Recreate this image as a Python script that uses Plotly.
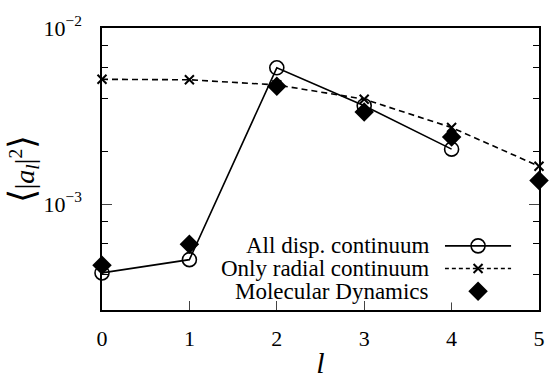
import plotly.graph_objects as go
import numpy as np

l_vals = [0, 1, 2, 3, 4, 5]
all_disp_l = [0, 1, 2, 3, 4]
all_disp = [4.06e-4, 4.83e-4, 5.94e-3, 3.62e-3, 2.05e-3]
radial_l = [0, 1, 2, 3, 4, 5]
radial = [5.11e-3, 5.08e-3, 4.75e-3, 3.94e-3, 2.72e-3, 1.64e-3]
md_l = [0, 1, 2, 3, 4, 5]
md = [4.49e-4, 5.90e-4, 4.67e-3, 3.33e-3, 2.40e-3, 1.36e-3]

x_ticks = [0, 1, 2, 3, 4, 5]
y_major = [1e-3, 1e-2]
y_major_text = ["10<sup>\u22123</sup>", "10<sup>\u22122</sup>"]
y_minor = [2e-4, 4e-4, 6e-4, 8e-4, 2e-3, 4e-3, 6e-3, 8e-3]

legend_names = ["All disp. continuum", "Only radial continuum", "Molecular Dynamics"]

FONT = "Liberation Serif"
fig = go.Figure()

fig.add_trace(go.Scatter(x=radial_l, y=radial, mode="lines+markers", cliponaxis=False,
                         line=dict(color="black", width=1.6, dash="6px,4px"),
                         marker=dict(symbol="x-thin", size=9, line=dict(color="black", width=2)),
                         showlegend=False))
fig.add_trace(go.Scatter(x=all_disp_l, y=all_disp, mode="lines+markers", cliponaxis=False,
                         line=dict(color="black", width=1.6),
                         marker=dict(symbol="circle-open", size=14, color="black", line=dict(width=1.6)),
                         showlegend=False))
fig.add_trace(go.Scatter(x=md_l, y=md, mode="markers", cliponaxis=False,
                         marker=dict(symbol="diamond", size=15, color="black"),
                         showlegend=False))

# custom legend with symbols to the right of the text, drawn on an auxiliary axis
rows = [0.0, 1.0, 2.0]
fig.add_trace(go.Scatter(x=[0, 1], y=[rows[0]] * 2, xaxis="x2", yaxis="y2", mode="lines",
                         line=dict(color="black", width=1.6), showlegend=False, hoverinfo="skip"))
fig.add_trace(go.Scatter(x=[0.5], y=[rows[0]], xaxis="x2", yaxis="y2", mode="markers",
                         marker=dict(symbol="circle-open", size=14, color="black", line=dict(width=1.6)),
                         showlegend=False, hoverinfo="skip"))
fig.add_trace(go.Scatter(x=[0, 1], y=[rows[1]] * 2, xaxis="x2", yaxis="y2", mode="lines",
                         line=dict(color="black", width=1.3, dash="4px,3px"), showlegend=False, hoverinfo="skip"))
fig.add_trace(go.Scatter(x=[0.5], y=[rows[1]], xaxis="x2", yaxis="y2", mode="markers",
                         marker=dict(symbol="x-thin", size=9, line=dict(color="black", width=2)),
                         showlegend=False, hoverinfo="skip"))
fig.add_trace(go.Scatter(x=[0.5], y=[rows[2]], xaxis="x2", yaxis="y2", mode="markers",
                         marker=dict(symbol="diamond", size=15, color="black"),
                         showlegend=False, hoverinfo="skip"))

W, H = 557, 386
L, R, T, B = 102, 14, 17, 70
pw, ph = W - L - R, H - T - B
x2d = [(448 - L) / pw, (515 - L) / pw]
ytop, ybot = 248 - 12, 296 + 12
y2d = [(H - B - ybot) / ph, (H - B - ytop) / ph]

for i, name in enumerate(legend_names):
    ypx = 248 + 24 * i
    fig.add_annotation(x=(432 - L) / pw, y=(H - B - ypx) / ph, xref="paper", yref="paper",
                       text=name, showarrow=False, xanchor="right", yanchor="middle",
                       xshift=2,
                       font=dict(family=FONT, size=23, color="black"))

ytitle = ("<span style='font-size:36px'>\u27e8</span>|<i>a<sub>l</sub></i>|<sup>2</sup>"
          "<span style='font-size:36px'>\u27e9</span>")

fig.update_layout(
    width=W, height=H,
    margin=dict(l=L, r=R, t=T, b=B),
    paper_bgcolor="white", plot_bgcolor="white",
    font=dict(family=FONT, color="black", size=22),
    xaxis=dict(range=[0, 5], tickvals=x_ticks, ticks="inside", ticklen=9, tickwidth=1,
               showline=True, linecolor="black", linewidth=1.5, mirror=True,
               showgrid=False, zeroline=False, tickfont=dict(size=22, family=FONT),
               ticklabelstandoff=8,
               title=dict(text="<i>l</i>", font=dict(size=30, family=FONT), standoff=2)),
    yaxis=dict(type="log", range=[np.log10(2.5e-4), -2], tickvals=y_major, ticktext=y_major_text,
               ticks="inside", ticklen=10, tickwidth=1,
               minor=dict(tickvals=y_minor, ticks="inside", ticklen=6, tickwidth=1, tickcolor="black", showgrid=False),
               showline=True, linecolor="black", linewidth=1.5, mirror="ticks",
               showgrid=False, zeroline=False, tickfont=dict(size=22, family=FONT),
               ticklabelstandoff=14,
               title=dict(text=ytitle, font=dict(size=28, family=FONT), standoff=0)),
    xaxis2=dict(domain=x2d, range=[0, 1], visible=False, anchor="y2"),
    yaxis2=dict(domain=y2d, range=[2.5, -0.5], visible=False, anchor="x2"),
)
fig.write_html("out.html")
